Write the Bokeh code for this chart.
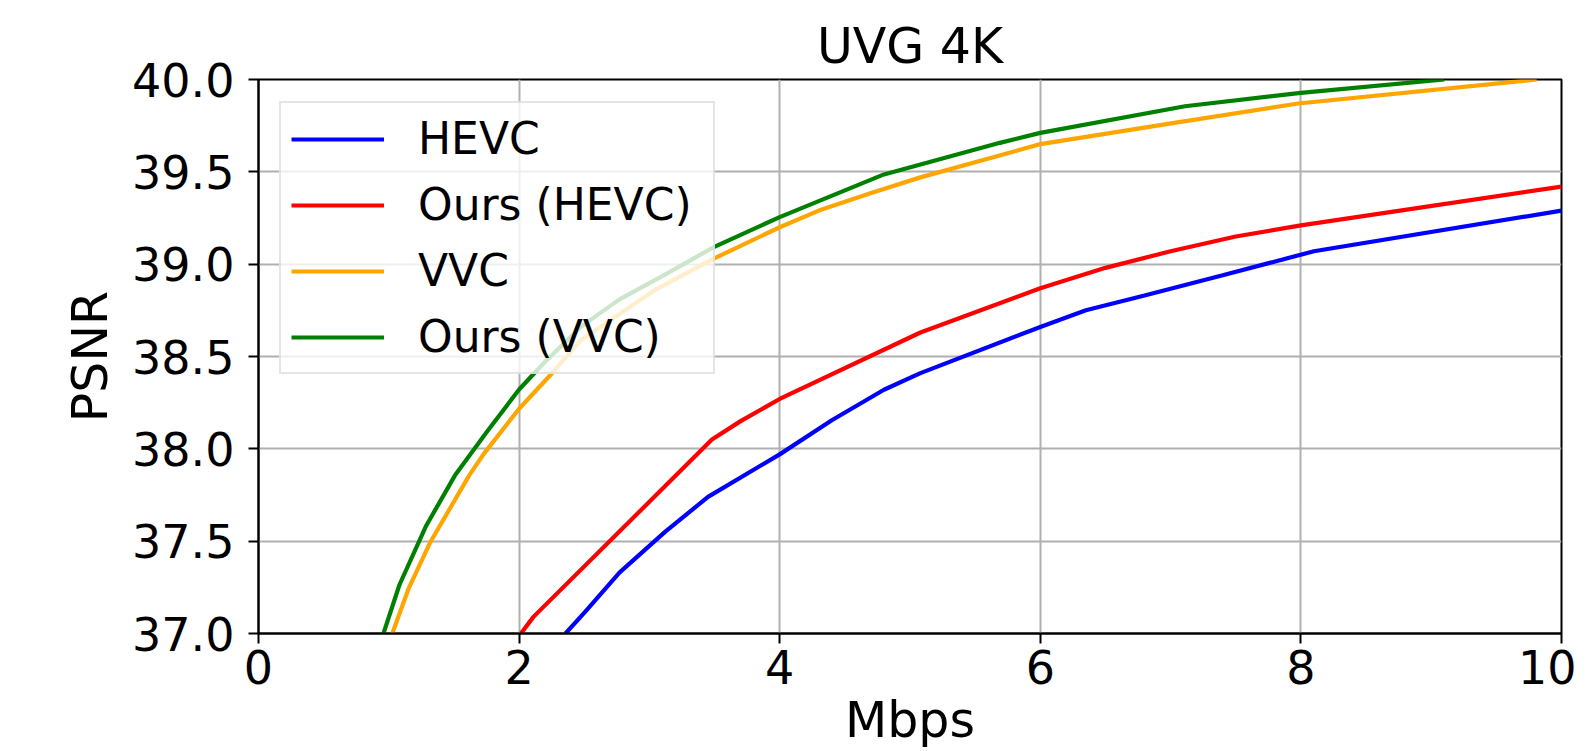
from bokeh.plotting import figure
from bokeh.models import Range1d, FixedTicker, NumeralTickFormatter
from bokeh.embed import file_html
from bokeh.resources import INLINE

# ---- data ----
hevc_x = [2.356, 2.51, 2.77, 3.12, 3.45, 4.0, 4.40, 4.80, 5.08, 6.0, 6.35, 6.8, 7.4, 8.1, 10.0]
hevc_y = [37.0, 37.12, 37.33, 37.55, 37.74, 37.97, 38.155, 38.32, 38.41, 38.66, 38.75, 38.83, 38.94, 39.07, 39.29]

ours_hevc_x = [2.014, 2.11, 3.48, 3.7, 4.0, 5.08, 6.0, 6.5, 7.0, 7.5, 8.0, 10.0]
ours_hevc_y = [37.0, 37.09, 38.05, 38.15, 38.27, 38.63, 38.87, 38.98, 39.07, 39.15, 39.21, 39.42]

vvc_x = [1.027, 1.15, 1.315, 1.616, 1.726, 2.0, 2.246, 2.471, 3.054, 3.494, 4.0, 4.3, 4.72, 5.08, 6.0, 6.98, 7.98, 9.81]
vvc_y = [37.0, 37.24, 37.49, 37.855, 37.97, 38.217, 38.404, 38.587, 38.865, 39.03, 39.2, 39.29, 39.39, 39.47, 39.65, 39.76, 39.87, 40.0]

ours_vvc_x = [0.959, 1.082, 1.288, 1.507, 1.753, 2.0, 2.192, 2.471, 2.767, 3.085, 3.494, 4.0, 4.8, 5.69, 6.0, 7.11, 8.0, 9.10]
ours_vvc_y = [37.0, 37.264, 37.585, 37.855, 38.093, 38.321, 38.466, 38.659, 38.808, 38.93, 39.092, 39.255, 39.486, 39.657, 39.711, 39.855, 39.928, 40.0]

series = [
    ("HEVC", hevc_x, hevc_y, "#0000ff"),
    ("Ours (HEVC)", ours_hevc_x, ours_hevc_y, "#ff0000"),
    ("VVC", vvc_x, vvc_y, "#ffa500"),
    ("Ours (VVC)", ours_vvc_x, ours_vvc_y, "#008000"),
]

x_ticks = [0, 2, 4, 6, 8, 10]
y_ticks = [37.0, 37.5, 38.0, 38.5, 39.0, 39.5, 40.0]
x_label = "Mbps"
y_label = "PSNR"

FONT = "DejaVu Sans"

p = figure(width=1576, height=751, x_range=Range1d(0, 10), y_range=Range1d(37, 40),
           output_backend="svg", toolbar_location=None, title="UVG 4K",
           min_border_left=258, min_border_right=15, min_border_top=79, min_border_bottom=118,
           x_axis_label=x_label, y_axis_label=y_label)

p.title.text_font = FONT
p.title.text_font_size = "49px"
p.title.text_font_style = "normal"
p.title.text_color = "black"
p.title.align = "center"
p.title.standoff = 10

for name, xs, ys, col in series:
    p.line(xs, ys, line_color=col, line_width=4.2, legend_label=name)

p.xaxis.ticker = FixedTicker(ticks=x_ticks)
p.yaxis.ticker = FixedTicker(ticks=y_ticks)
p.yaxis.formatter = NumeralTickFormatter(format="0.0")

for ax in (p.xaxis, p.yaxis):
    ax.axis_line_width = 2
    ax.axis_line_color = "black"
    ax.major_tick_line_width = 2
    ax.major_tick_line_color = "black"
    ax.major_tick_out = 10
    ax.major_tick_in = 0
    ax.minor_tick_line_color = None
    ax.major_label_text_font = FONT
    ax.major_label_text_font_size = "46px"
    ax.major_label_text_color = "black"
    ax.axis_label_text_font = FONT
    ax.axis_label_text_font_size = "49px"
    ax.axis_label_text_font_style = "normal"
    ax.axis_label_text_color = "black"

p.xaxis.major_label_standoff = 6
p.xaxis.axis_label_standoff = 5
p.yaxis.major_label_standoff = 14
p.yaxis.axis_label_standoff = 10

p.grid.grid_line_color = "#b0b0b0"
p.grid.grid_line_width = 2

p.outline_line_color = "black"
p.outline_line_width = 2

lg = p.legend[0]
lg.location = (21, 259)
lg.label_text_font = FONT
lg.label_text_font_size = "44px"
lg.label_text_color = "black"
lg.glyph_width = 93
lg.glyph_height = 50
lg.label_height = 50
lg.label_width = 285
lg.spacing = 15
lg.padding = 10
lg.label_standoff = 34
lg.border_line_color = "#cccccc"
lg.border_line_width = 2
lg.background_fill_alpha = 0.8

open("out.html", "w").write(file_html(p, INLINE))
